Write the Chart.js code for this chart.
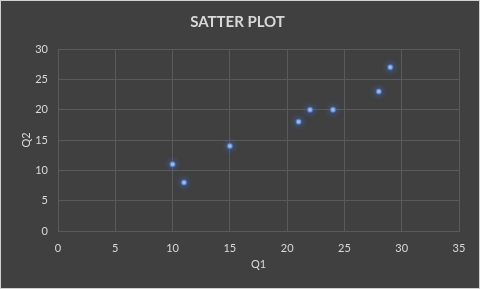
<!DOCTYPE html>
<html>
<head>
<meta charset="utf-8">
<script src="https://cdn.jsdelivr.net/npm/chart.js@4"></script>
<style>
  html,body{margin:0;padding:0;background:#404040;}
  #wrap{position:relative;width:478px;height:287px;border:1px solid #d0d0d0;background:#404040;}
</style>
</head>
<body>
<div id="wrap"><canvas id="chart" width="478" height="287"></canvas></div>
<script>
/* Scatter: Q1 vs Q2 */
var Q1=[10,11,15,21,22,24,28,29];
var Q2=[11,8,14,18,20,20,23,27];
var X_TICKS=[0,5,10,15,20,25,30,35];
var Y_TICKS=[0,5,10,15,20,25,30];

var points=Q1.map(function(x,i){ return {x:x,y:Q2[i]}; });

// soft blue halo around each marker
var glow={
  id:'glow',
  beforeDatasetDraw:function(c){ c.ctx.save(); c.ctx.shadowColor='rgba(70,120,220,0.9)'; c.ctx.shadowBlur=7; },
  afterDatasetDraw:function(c){ c.ctx.restore(); }
};

var txt='#d9d9d9', grid='#5a5a5a';
Chart.defaults.font.family='Lato, "Open Sans", sans-serif';

new Chart(document.getElementById('chart'),{
  type:'scatter',
  data:{datasets:[{
    data:points,
    pointRadius:2.5,
    pointHoverRadius:3,
    backgroundColor:'#a4c2ee',
    borderColor:'rgba(68,114,196,0.55)',
    pointBorderWidth:1.5
  }]},
  options:{
    responsive:false,animation:false,
    layout:{padding:{left:15,right:20,top:6,bottom:17}},
    plugins:{
      legend:{display:false},tooltip:{enabled:false},
      title:{display:true,text:'SATTER PLOT',color:txt,font:{size:15,weight:'bold'},padding:{top:6,bottom:18}}
    },
    scales:{
      x:{type:'linear',min:0,max:35,
        afterBuildTicks:function(a){ a.ticks=X_TICKS.map(function(v){return {value:v};}); },
        afterFit:function(s){ s.height=40; },
        grid:{color:grid,drawTicks:false},border:{color:grid},
        ticks:{color:txt,font:{size:11},padding:11},
        title:{display:true,text:'Q1',color:txt,font:{size:11},padding:{top:2,bottom:0}}},
      y:{min:0,max:30,
        afterBuildTicks:function(a){ a.ticks=Y_TICKS.map(function(v){return {value:v};}); },
        afterFit:function(s){ s.width=42; },
        grid:{color:grid,drawTicks:false},border:{color:grid},
        ticks:{color:txt,font:{size:11},padding:10},
        title:{display:true,text:'Q2',color:txt,font:{size:11},padding:{top:4,bottom:0}}}
    }
  },
  plugins:[glow]
});
</script>
</body>
</html>
